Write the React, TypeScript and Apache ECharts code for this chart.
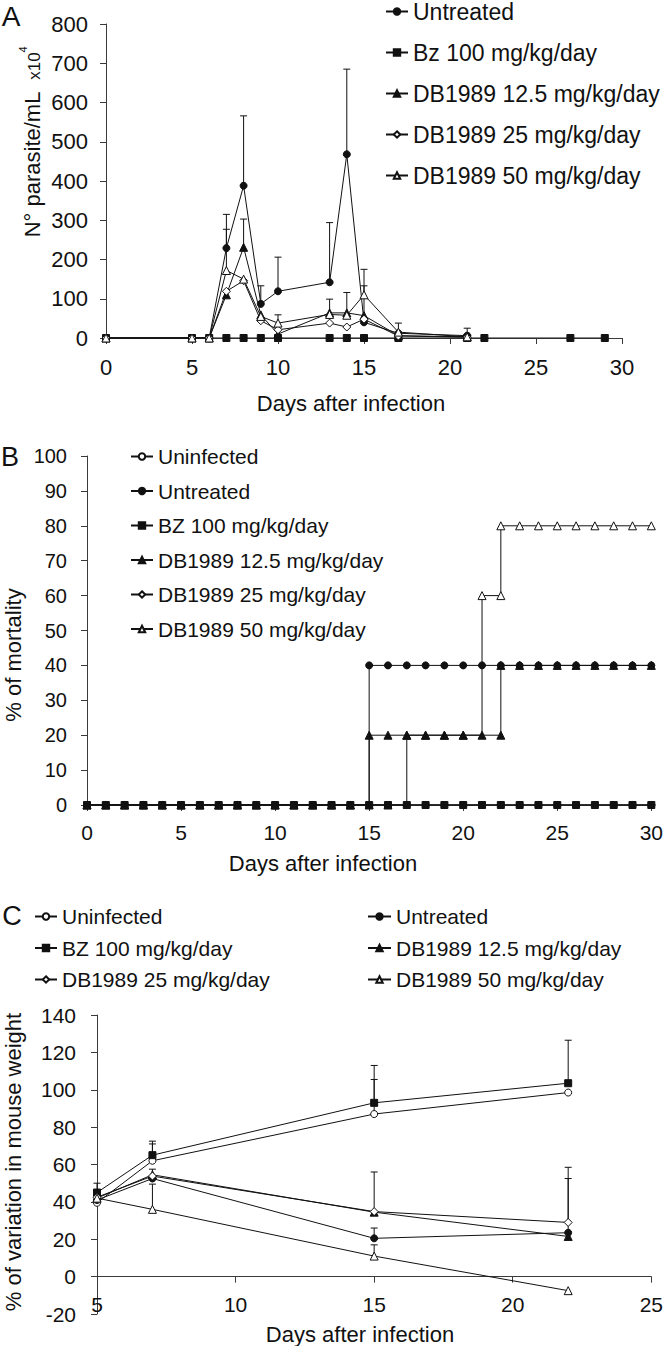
import React, { useEffect, useRef } from "react";
import * as echarts from "echarts";

const FONT = "'Liberation Sans', Arial, Helvetica, sans-serif";
const INK = "#111";
const AXIS = "#3a3a3a";

// ---------- Panel A : parasitaemia ----------
const daysA = [0, 5, 6, 7, 8, 9, 10, 13, 14, 15, 17, 21, 22, 27, 29];
const untreatedA = [0, 0, 0, 229, 388, 87, 119, 142, 468, 40, 12, 6, null, null, null];
const bzA = [0, 0, 0, 0, 0, 0, 0, 0, 0, 0, 0, 0, 0, 0, 0];
const db125A = [0, 0, 0, 110, 231, 59, 10, 64, 64, 57, 6, 3, null, null, null];
const db25A = [0, 0, 0, 119, 146, 44, 21, 38, 28, 48, 5, 2, null, null, null];
const db50A = [0, 0, 0, 172, 150, 55, 38, 60, 58, 110, 15, 3, null, null, null];
const untreatedErrA = [null, null, null, 315, 566, 133, 206, 294, 685, null, null, 25, null, null, null];
const db125ErrA = [null, null, null, null, 303, null, null, 99, 116, 133, null, null, null, null, null];
const db50ErrA = [null, null, null, 277, null, null, 59, null, null, 175, 38, null, null, null, null];

// ---------- Panel B : mortality ----------
const daysB = [0, 1, 2, 3, 4, 5, 6, 7, 8, 9, 10, 11, 12, 13, 14, 15, 16, 17, 18, 19, 20, 21, 22, 23, 24, 25, 26, 27, 28, 29, 30];
const uninfectedB = [0, 0, 0, 0, 0, 0, 0, 0, 0, 0, 0, 0, 0, 0, 0, 0, 0, 0, 0, 0, 0, 0, 0, 0, 0, 0, 0, 0, 0, 0, 0];
const untreatedB = [0, 0, 0, 0, 0, 0, 0, 0, 0, 0, 0, 0, 0, 0, 0, 40, 40, 40, 40, 40, 40, 40, 40, 40, 40, 40, 40, 40, 40, 40, 40];
const bzB = [0, 0, 0, 0, 0, 0, 0, 0, 0, 0, 0, 0, 0, 0, 0, 0, 0, 0, 0, 0, 0, 0, 0, 0, 0, 0, 0, 0, 0, 0, 0];
const db25B = [0, 0, 0, 0, 0, 0, 0, 0, 0, 0, 0, 0, 0, 0, 0, 0, 0, 0, 0, 0, 0, 0, 0, 0, 0, 0, 0, 0, 0, 0, 0];
const stepDaysB = [0, 1, 2, 3, 4, 5, 6, 7, 8, 9, 10, 11, 12, 13, 14, 15, 16, 17, 18, 19, 20, 21, 22, 22, 23, 24, 25, 26, 27, 28, 29, 30];
const db125B = [0, 0, 0, 0, 0, 0, 0, 0, 0, 0, 0, 0, 0, 0, 0, 20, 20, 20, 20, 20, 20, 20, 20, 40, 40, 40, 40, 40, 40, 40, 40, 40];
const db50B = [0, 0, 0, 0, 0, 0, 0, 0, 0, 0, 0, 0, 0, 0, 0, 0, 0, 20, 20, 20, 20, 60, 60, 80, 80, 80, 80, 80, 80, 80, 80, 80];

// ---------- Panel C : body weight ----------
const daysC = [5, 7, 15, 22];
const uninfectedC = [39.5, 62, 87, 98.5];
const untreatedC = [41, 52.5, 20.5, 23.5];
const bzC = [45, 65, 93, 103.5];
const db125C = [42, 54.5, 34.5, 21.5];
const db25C = [42.5, 53.8, 34.8, 29];
const db50C = [42, 36, 11, -7.5];
const bzErrC = [50, 72.5, 113, 126.5];
const uninfectedErrC = [null, 71, 105.5, null];
const untreatedErrC = [null, null, 26, null];
const db125ErrC = [null, 57.5, null, 52.5];
const db25ErrC = [null, null, 56, 58.5];
const db50ErrC = [null, 49.5, 17, null];

const zip = (xs: number[], ys: (number | null)[]) => xs.map((x, i) => [x, ys[i]]);

const SYM: Record<string, { symbol: string; size: number; filled: boolean }> = {
  circleF: { symbol: "circle", size: 7, filled: true },
  circleO: { symbol: "circle", size: 7, filled: false },
  square: { symbol: "rect", size: 7, filled: true },
  triF: { symbol: "triangle", size: 8, filled: true },
  triO: { symbol: "triangle", size: 8, filled: false },
  diamond: { symbol: "diamond", size: 8, filled: false },
};

function lineSeries(name: string, data: any[], kind: string, g: number, extra: any = {}) {
  const s = SYM[kind];
  return {
    type: "line",
    name,
    data,
    xAxisIndex: g,
    yAxisIndex: g,
    symbol: s.symbol,
    symbolSize: s.size,
    showSymbol: true,
    connectNulls: false,
    lineStyle: { color: INK, width: 1 },
    itemStyle: s.filled
      ? { color: INK, borderColor: INK, borderWidth: 1 }
      : { color: "#fff", borderColor: INK, borderWidth: 1 },
    emphasis: { disabled: true },
    z: 3,
    ...extra,
  };
}

function errSeries(days: number[], base: (number | null)[], tops: (number | null)[], g: number) {
  const data = days
    .map((d, i) => (tops[i] == null || base[i] == null ? null : [d, base[i], tops[i]]))
    .filter((v) => v != null);
  return {
    type: "custom",
    xAxisIndex: g,
    yAxisIndex: g,
    data,
    z: 2,
    silent: true,
    encode: { x: 0, y: [1, 2] },
    renderItem: (_p: any, api: any) => {
      const x = api.value(0);
      const p0 = api.coord([x, api.value(1)]);
      const p1 = api.coord([x, api.value(2)]);
      const w = 3.5;
      const st = { stroke: INK, lineWidth: 1 };
      return {
        type: "group",
        children: [
          { type: "line", shape: { x1: p0[0], y1: p0[1], x2: p1[0], y2: p1[1] }, style: st },
          { type: "line", shape: { x1: p1[0] - w, y1: p1[1], x2: p1[0] + w, y2: p1[1] }, style: st },
        ],
      };
    },
  };
}

function axis(g: number, min: number, max: number, interval: number, fontSize: number, margin: number, onZero: boolean, extra: any = {}) {
  return {
    type: "value",
    gridIndex: g,
    min,
    max,
    interval,
    axisLine: { show: true, onZero, lineStyle: { color: AXIS, width: 1 } },
    axisTick: { show: true, length: 6, lineStyle: { color: AXIS, width: 1 } },
    axisLabel: { fontSize, fontFamily: FONT, color: INK, margin },
    splitLine: { show: false },
    ...extra,
  };
}

function legend(left: number, top: number, gap: number, itemWidth: number, fontSize: number, names: string[]) {
  return {
    orient: "vertical",
    left,
    top,
    padding: 0,
    itemGap: gap,
    itemWidth,
    itemHeight: 8,
    selectedMode: false,
    textStyle: { fontSize, fontFamily: FONT, color: INK, lineHeight: fontSize },
    data: names,
  };
}

function txt(text: string, x: number, y: number, fontSize: number, rotate = false, extra: any = {}) {
  return {
    type: "text",
    x,
    y,
    rotation: rotate ? Math.PI / 2 : 0,
    silent: true,
    style: {
      text,
      fontSize,
      fontFamily: FONT,
      fill: INK,
      align: "center",
      verticalAlign: "middle",
      ...extra,
    },
  };
}

const N_UNTR = "Untreated";
const N_UNINF = "Uninfected";
const N_BZA = "Bz 100 mg/kg/day";
const N_BZ = "BZ 100 mg/kg/day";
const N_125 = "DB1989 12.5 mg/kg/day";
const N_25 = "DB1989 25 mg/kg/day";
const N_50 = "DB1989 50 mg/kg/day";

export default function App() {
  const ref = useRef<HTMLDivElement>(null);
  useEffect(() => {
    if (!ref.current) return;
    const chart = echarts.init(ref.current, undefined, { renderer: "svg" });
    const option: any = {
      animation: false,
      textStyle: { fontFamily: FONT },
      grid: [
        { left: 106, top: 24, width: 516, height: 314 },
        { left: 87, top: 456, width: 566, height: 349 },
        { left: 97, top: 1015, width: 556, height: 299 },
      ],
      xAxis: [
        axis(0, 0, 30, 5, 22, 18, true),
        axis(1, 0, 30, 5, 21, 17, true),
        axis(2, 5, 25, 5, 21, 17, true, { axisLabel: { show: false } }),
        {
          type: "value",
          gridIndex: 2,
          min: 5,
          max: 25,
          interval: 5,
          position: "bottom",
          axisLine: { show: false, onZero: false },
          axisTick: { show: false },
          splitLine: { show: false },
          axisLabel: { fontSize: 21, fontFamily: FONT, color: INK, margin: 1, verticalAlign: "bottom" },
        },
      ],
      yAxis: [
        axis(0, 0, 800, 100, 22, 18, false),
        axis(1, 0, 100, 10, 20, 20, false),
        axis(2, -20, 140, 20, 21, 21, false),
      ],
      legend: [
        legend(385, 0, 18, 22, 23, [N_UNTR, N_BZA, N_125, N_25, N_50]),
        legend(130, 446, 13.5, 22, 21, [N_UNINF, N_UNTR, N_BZ, N_125, N_25, N_50]),
        legend(34, 906, 10.5, 22, 21, [N_UNINF, N_BZ, N_25]),
        legend(367, 906, 10.5, 23, 21, [N_UNTR, N_125, N_50]),
      ],
      graphic: [
        txt("A", 11, 16, 28),
        txt("B", 10, 457, 27),
        txt("C", 12, 916, 27),
        {
          type: "text",
          x: 30,
          y: 142,
          rotation: Math.PI / 2,
          silent: true,
          style: {
            text: "{a|N° parasite/mL  }{b|x10}{c|4}",
            align: "center",
            verticalAlign: "middle",
            fill: INK,
            rich: {
              a: { fontSize: 22, fontFamily: FONT, fill: INK, lineHeight: 26, verticalAlign: "bottom" },
              b: { fontSize: 17, fontFamily: FONT, fill: INK, lineHeight: 26, verticalAlign: "bottom" },
              c: { fontSize: 11, fontFamily: FONT, fill: INK, lineHeight: 26, verticalAlign: "top" },
            },
          },
        },
        txt("Days after infection", 351, 403, 22),
        txt("% of mortality", 13, 655, 22, true),
        txt("Days after infection", 323, 863, 22),
        txt("% of variation in mouse weight", 13, 1162, 22, true),
        txt("Days after infection", 360, 1334, 22),
      ],
      series: [
        // Panel A
        errSeries(daysA, untreatedA, untreatedErrA, 0),
        errSeries(daysA, db125A, db125ErrA, 0),
        errSeries(daysA, db50A, db50ErrA, 0),
        lineSeries(N_BZA, zip(daysA, bzA), "square", 0),
        lineSeries(N_UNTR, zip(daysA, untreatedA), "circleF", 0),
        lineSeries(N_125, zip(daysA, db125A), "triF", 0),
        lineSeries(N_25, zip(daysA, db25A), "diamond", 0),
        lineSeries(N_50, zip(daysA, db50A), "triO", 0),
        // Panel B
        lineSeries(N_UNINF, zip(daysB, uninfectedB), "circleO", 1, { z: 2 }),
        lineSeries(N_25, zip(daysB, db25B), "diamond", 1, { z: 2 }),
        lineSeries(N_50, zip(stepDaysB, db50B), "triO", 1, { z: 2, step: "end" }),
        lineSeries(N_BZ, zip(daysB, bzB), "square", 1, { z: 4 }),
        lineSeries(N_UNTR, zip(daysB, untreatedB), "circleF", 1, { z: 4, step: "end" }),
        lineSeries(N_125, zip(stepDaysB, db125B), "triF", 1, { z: 5, step: "end" }),
        // Panel C
        errSeries(daysC, bzC, bzErrC, 2),
        errSeries(daysC, uninfectedC, uninfectedErrC, 2),
        errSeries(daysC, untreatedC, untreatedErrC, 2),
        errSeries(daysC, db125C, db125ErrC, 2),
        errSeries(daysC, db25C, db25ErrC, 2),
        errSeries(daysC, db50C, db50ErrC, 2),
        lineSeries(N_UNINF, zip(daysC, uninfectedC), "circleO", 2),
        lineSeries(N_BZ, zip(daysC, bzC), "square", 2),
        lineSeries(N_UNTR, zip(daysC, untreatedC), "circleF", 2),
        lineSeries(N_125, zip(daysC, db125C), "triF", 2),
        lineSeries(N_25, zip(daysC, db25C), "diamond", 2),
        lineSeries(N_50, zip(daysC, db50C), "triO", 2),
      ],
    };
    chart.setOption(option);
    return () => chart.dispose();
  }, []);
  return (
    <div
      ref={ref}
      style={{ position: "absolute", left: 0, top: 0, width: 666, height: 1346, background: "#fff" }}
    />
  );
}
